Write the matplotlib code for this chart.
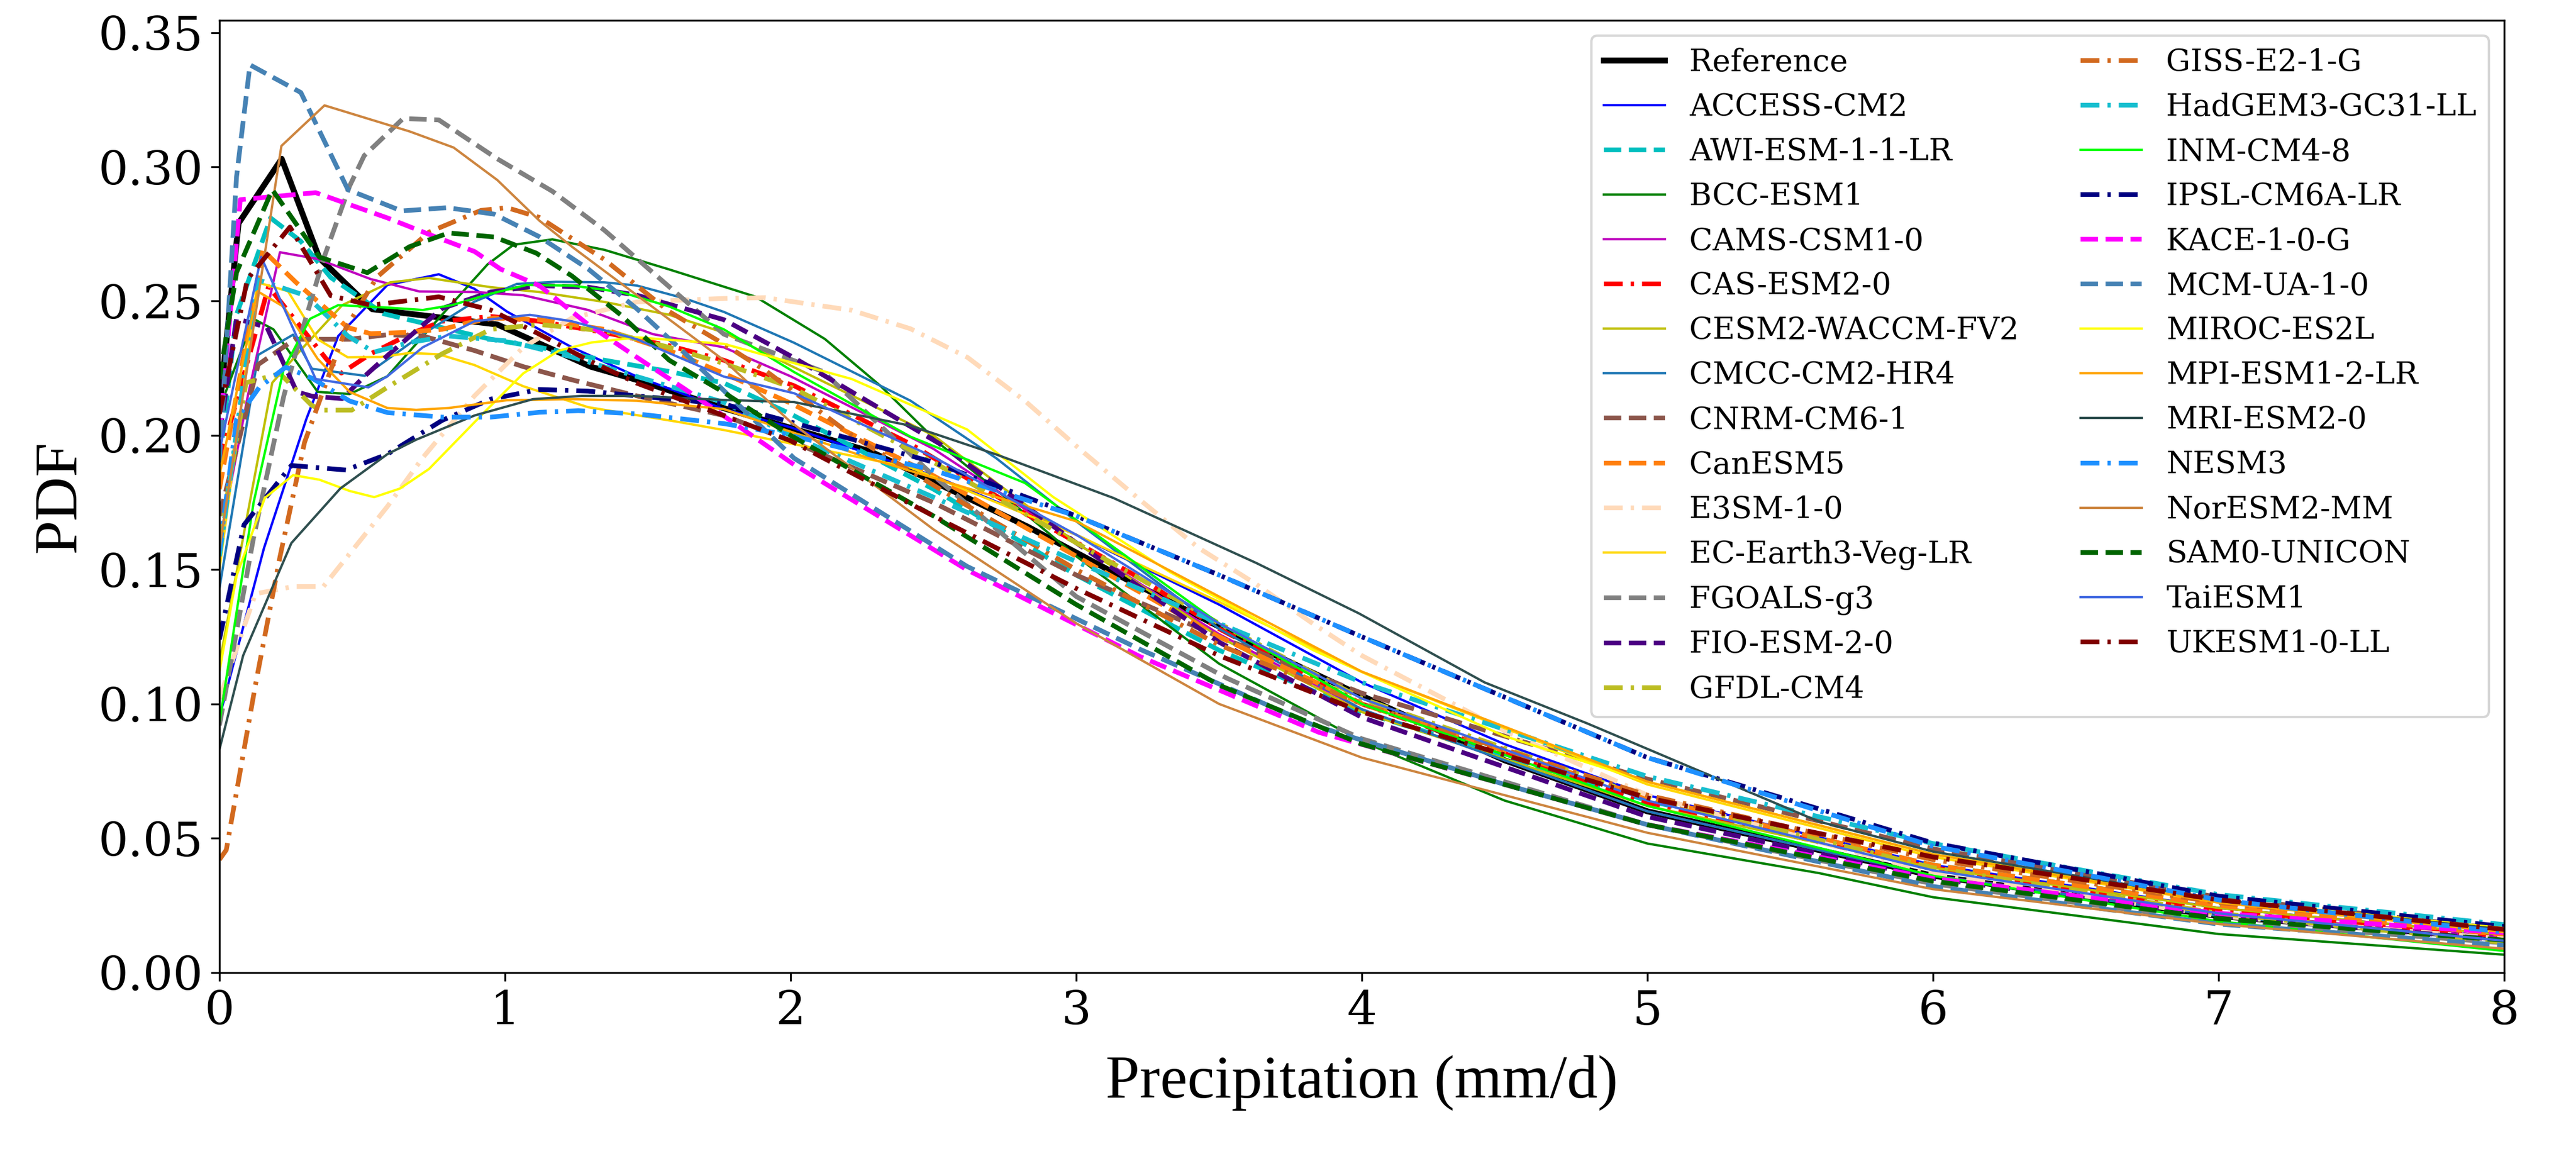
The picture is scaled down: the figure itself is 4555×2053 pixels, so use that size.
import matplotlib
matplotlib.use("Agg")
import matplotlib.pyplot as plt

plt.rcParams['font.family'] = ['DejaVu Serif']

# ---- data (x: mm/d, y: PDF) ----
ref_x = [0, 0.067, 0.218, 0.35, 0.535, 0.973, 1.30, 1.46, 1.77, 2.28, 2.83, 3.2, 3.7, 4.0, 4.5, 5, 6, 7, 8]
ref_y = [0.21, 0.279, 0.303, 0.266, 0.247, 0.2413, 0.2256, 0.2207, 0.210, 0.194, 0.166, 0.145, 0.118, 0.103, 0.079, 0.060, 0.036, 0.021, 0.0125]

access_x = [0, 0.156, 0.304, 0.416, 0.588, 0.768, 0.893, 1.007, 1.234, 1.462, 1.766, 2.0, 2.5, 3.0, 3.5, 4, 4.5, 5, 6, 7, 8]
access_y = [0.095, 0.158, 0.206, 0.237, 0.256, 0.260, 0.2546, 0.2461, 0.2328, 0.2219, 0.2098, 0.203, 0.185, 0.163, 0.137, 0.108, 0.085, 0.066, 0.040, 0.024, 0.014]

awi_x = [0, 0.06, 0.179, 0.284, 0.39, 0.575, 0.78, 0.95, 1.12, 1.348, 1.575, 1.766, 2.0, 2.5, 3.0, 3.5, 4, 5, 6, 7, 8]
awi_y = [0.19, 0.245, 0.281, 0.2724, 0.2588, 0.2453, 0.2401, 0.2358, 0.2328, 0.228, 0.2238, 0.2195, 0.208, 0.18, 0.148, 0.12, 0.097, 0.064, 0.040, 0.025, 0.015]

bcc_x = [0, 0.119, 0.189, 0.344, 0.456, 0.588, 0.78, 0.939, 1.03, 1.166, 1.348, 1.575, 1.876, 2.12, 2.315, 2.52, 2.82, 3.0, 3.5, 4, 4.5, 5, 5.6, 6, 7, 8]
bcc_y = [0.21, 0.2434, 0.2395, 0.2162, 0.2154, 0.222, 0.245, 0.2637, 0.271, 0.273, 0.2691, 0.2618, 0.2517, 0.2359, 0.2184, 0.197, 0.171, 0.155, 0.115, 0.086, 0.064, 0.048, 0.037, 0.028, 0.0143, 0.0066]

cams_x = [0, 0.1, 0.212, 0.344, 0.53, 0.7, 0.893, 1.064, 1.291, 1.518, 1.766, 2.0, 2.5, 3.0, 3.5, 4, 5, 6, 7, 8]
cams_y = [0.16, 0.215, 0.2682, 0.2657, 0.2582, 0.2536, 0.2534, 0.2522, 0.2467, 0.2377, 0.2328, 0.222, 0.195, 0.16, 0.126, 0.098, 0.060, 0.036, 0.022, 0.013]

cas_x = [0, 0.172, 0.377, 0.427, 0.53, 0.666, 0.78, 0.95, 1.12, 1.348, 1.575, 1.766, 2.012, 2.42, 2.82, 3.22, 3.5, 4, 5, 6, 7, 8]
cas_y = [0.19, 0.2554, 0.2281, 0.2232, 0.2304, 0.2377, 0.2425, 0.2443, 0.2425, 0.2383, 0.2334, 0.228, 0.2185, 0.1968, 0.171, 0.147, 0.128, 0.100, 0.063, 0.039, 0.023, 0.0135]

cesm_x = [0, 0.185, 0.284, 0.43, 0.598, 0.734, 0.95, 1.12, 1.348, 1.575, 1.766, 2.0, 2.5, 3.0, 3.5, 4, 5, 6, 7, 8]
cesm_y = [0.115, 0.2196, 0.2317, 0.2485, 0.257, 0.2586, 0.2552, 0.2534, 0.2497, 0.2449, 0.2383, 0.226, 0.200, 0.160, 0.125, 0.097, 0.062, 0.039, 0.024, 0.014]

cmcc_x = [0, 0.136, 0.258, 0.324, 0.509, 0.712, 0.893, 1.041, 1.178, 1.348, 1.462, 1.632, 1.766, 2.012, 2.42, 2.72, 3.0, 3.5, 4, 5, 6, 7, 8]
cmcc_y = [0.143, 0.23, 0.2375, 0.2248, 0.2222, 0.2377, 0.2498, 0.2564, 0.2572, 0.257, 0.2558, 0.2509, 0.246, 0.2345, 0.2129, 0.1915, 0.168, 0.128, 0.098, 0.060, 0.036, 0.021, 0.012]

cnrm_x = [0, 0.136, 0.264, 0.456, 0.588, 0.712, 0.893, 1.064, 1.234, 1.462, 1.766, 2.0, 2.5, 3.0, 3.5, 4, 5, 6, 7, 8]
cnrm_y = [0.17, 0.2264, 0.2358, 0.2358, 0.2375, 0.237, 0.2316, 0.2256, 0.2207, 0.2147, 0.2074, 0.198, 0.175, 0.148, 0.125, 0.104, 0.072, 0.046, 0.028, 0.016]

canesm_x = [0, 0.152, 0.268, 0.45, 0.53, 0.643, 0.78, 0.87, 0.962, 1.12, 1.348, 1.575, 1.766, 2.0, 2.5, 3.0, 3.5, 4, 5, 6, 7, 8]
canesm_y = [0.18, 0.269, 0.257, 0.2401, 0.2379, 0.2383, 0.2395, 0.2419, 0.2437, 0.2431, 0.2395, 0.2316, 0.2231, 0.212, 0.185, 0.155, 0.125, 0.100, 0.065, 0.040, 0.025, 0.014]

e3sm_x = [0, 0.126, 0.258, 0.364, 0.588, 0.712, 0.893, 1.064, 1.234, 1.462, 1.766, 1.911, 2.214, 2.42, 2.62, 2.82, 3.02, 3.23, 3.43, 3.63, 3.83, 4.0, 4.5, 5, 6, 7, 8]
e3sm_y = [0.102, 0.141, 0.1437, 0.1437, 0.1735, 0.1917, 0.2147, 0.2328, 0.2437, 0.2497, 0.251, 0.2513, 0.2466, 0.2397, 0.229, 0.2129, 0.1942, 0.1754, 0.158, 0.1446, 0.1298, 0.118, 0.090, 0.066, 0.037, 0.021, 0.0125]

ecearth_x = [0, 0.133, 0.24, 0.344, 0.449, 0.564, 0.666, 0.768, 0.893, 1.064, 1.291, 1.608, 1.766, 2.0, 2.42, 3.0, 3.5, 4, 5, 6, 7, 8]
ecearth_y = [0.15, 0.257, 0.2537, 0.2358, 0.2291, 0.2292, 0.2307, 0.2302, 0.2262, 0.2183, 0.2105, 0.205, 0.202, 0.197, 0.188, 0.163, 0.138, 0.112, 0.070, 0.043, 0.026, 0.0155]

fgoals_x = [0, 0.119, 0.225, 0.278, 0.364, 0.456, 0.507, 0.643, 0.768, 0.973, 1.166, 1.348, 1.518, 1.766, 2.113, 2.5, 3.0, 3.527, 4, 5, 6, 7, 8]
fgoals_y = [0.092, 0.1616, 0.2145, 0.2349, 0.2656, 0.2929, 0.3042, 0.318, 0.3175, 0.303, 0.2909, 0.2764, 0.2606, 0.2377, 0.2238, 0.185, 0.140, 0.1096, 0.087, 0.055, 0.033, 0.019, 0.011]

fio_x = [0, 0.06, 0.166, 0.271, 0.324, 0.43, 0.507, 0.588, 0.78, 0.95, 1.12, 1.291, 1.462, 1.766, 2.012, 2.52, 3.0, 3.5, 4, 5, 6, 7, 8]
fio_y = [0.20, 0.2434, 0.2403, 0.2162, 0.2146, 0.2137, 0.2219, 0.2297, 0.2473, 0.2534, 0.2558, 0.2552, 0.2522, 0.2431, 0.2289, 0.197, 0.160, 0.123, 0.095, 0.058, 0.035, 0.021, 0.012]

gfdl_x = [0, 0.093, 0.212, 0.324, 0.364, 0.463, 0.588, 0.78, 0.95, 1.12, 1.348, 1.575, 1.766, 2.012, 2.5, 3.0, 3.5, 4, 5, 6, 7, 8]
gfdl_y = [0.16, 0.2196, 0.223, 0.2111, 0.2094, 0.2094, 0.2179, 0.2304, 0.2395, 0.2413, 0.2389, 0.2328, 0.2268, 0.2175, 0.190, 0.160, 0.130, 0.102, 0.065, 0.039, 0.022, 0.0111]

giss_x = [0, 0.024, 0.126, 0.212, 0.298, 0.443, 0.552, 0.734, 0.916, 1.007, 1.12, 1.348, 1.575, 1.766, 1.911, 2.214, 2.6, 3.0, 3.5, 4, 5, 6, 7, 8]
giss_y = [0.042, 0.0456, 0.107, 0.1548, 0.1974, 0.240, 0.259, 0.2757, 0.2838, 0.2848, 0.2812, 0.2655, 0.2461, 0.234, 0.2242, 0.200, 0.175, 0.150, 0.122, 0.100, 0.066, 0.042, 0.026, 0.016]

hadgem_x = [0, 0.133, 0.304, 0.45, 0.541, 0.666, 0.803, 1.007, 1.234, 1.462, 1.766, 2.0, 2.5, 3.0, 3.5, 4, 5, 6, 7, 8]
hadgem_y = [0.155, 0.258, 0.252, 0.237, 0.231, 0.2346, 0.237, 0.2352, 0.2292, 0.2219, 0.2123, 0.200, 0.177, 0.153, 0.130, 0.108, 0.073, 0.048, 0.029, 0.0178]

inm_x = [0, 0.12, 0.225, 0.317, 0.416, 0.588, 0.712, 0.814, 0.95, 1.075, 1.234, 1.405, 1.575, 1.766, 2.012, 2.42, 2.82, 3.5, 4, 5, 6, 7, 8]
inm_y = [0.093, 0.1752, 0.2247, 0.2434, 0.2485, 0.2476, 0.2467, 0.2485, 0.2528, 0.256, 0.2558, 0.2534, 0.248, 0.2395, 0.2236, 0.1995, 0.1823, 0.130, 0.100, 0.062, 0.036, 0.019, 0.008]

ipsl_x = [0, 0.086, 0.252, 0.443, 0.588, 0.78, 0.95, 1.12, 1.291, 1.462, 1.766, 2.0, 2.5, 3.0, 3.5, 4, 5, 6, 7, 8]
ipsl_y = [0.124, 0.1667, 0.1888, 0.1871, 0.193, 0.2056, 0.2135, 0.2171, 0.2165, 0.2147, 0.2117, 0.205, 0.190, 0.170, 0.148, 0.125, 0.080, 0.0482, 0.0284, 0.0171]

kace_x = [0, 0.073, 0.337, 0.588, 0.757, 0.893, 0.985, 1.12, 1.291, 1.46, 1.632, 2.012, 2.618, 3.224, 3.85, 4.5, 5, 6, 7, 8]
kace_y = [0.20, 0.2878, 0.2904, 0.281, 0.2739, 0.2685, 0.2619, 0.2558, 0.2413, 0.2292, 0.2171, 0.1891, 0.1499, 0.1176, 0.0894, 0.070, 0.055, 0.035, 0.022, 0.0148]

mcm_x = [0, 0.06, 0.107, 0.285, 0.45, 0.638, 0.797, 0.962, 1.12, 1.291, 1.46, 1.632, 2.012, 2.618, 3.224, 3.83, 4.5, 5, 6, 7, 8]
mcm_y = [0.19, 0.2964, 0.338, 0.3277, 0.2915, 0.2836, 0.2848, 0.2824, 0.274, 0.262, 0.2473, 0.2304, 0.1915, 0.1512, 0.1203, 0.0921, 0.070, 0.055, 0.032, 0.018, 0.0101]

miroc_x = [0, 0.06, 0.159, 0.258, 0.35, 0.456, 0.542, 0.632, 0.734, 0.916, 1.064, 1.189, 1.303, 1.462, 1.766, 2.214, 2.618, 2.92, 3.33, 3.83, 4.5, 5, 6, 7, 8]
miroc_y = [0.112, 0.1477, 0.1767, 0.1852, 0.1835, 0.1793, 0.177, 0.1802, 0.1875, 0.2074, 0.2231, 0.2316, 0.2346, 0.2365, 0.2341, 0.221, 0.2022, 0.177, 0.149, 0.120, 0.088, 0.071, 0.044, 0.027, 0.0165]

mpi_x = [0, 0.133, 0.225, 0.344, 0.456, 0.588, 0.689, 0.803, 1.007, 1.234, 1.462, 1.766, 2.277, 3.0, 3.5, 4, 5, 6, 7, 8]
mpi_y = [0.185, 0.2537, 0.2479, 0.2285, 0.2162, 0.2102, 0.2095, 0.2102, 0.2131, 0.2135, 0.2129, 0.2098, 0.1914, 0.168, 0.140, 0.112, 0.071, 0.044, 0.026, 0.015]

mri_x = [0, 0.083, 0.252, 0.423, 0.588, 0.689, 0.893, 1.098, 1.268, 1.462, 1.766, 2.012, 2.42, 2.72, 3.13, 3.63, 3.99, 4.43, 4.79, 5.6, 6, 7, 8]
mri_y = [0.083, 0.118, 0.1599, 0.1802, 0.193, 0.1984, 0.2074, 0.2135, 0.2147, 0.2147, 0.2132, 0.2124, 0.2036, 0.1929, 0.1767, 0.1525, 0.1337, 0.108, 0.0927, 0.0562, 0.045, 0.027, 0.016]

nesm_x = [0, 0.06, 0.139, 0.232, 0.324, 0.456, 0.588, 0.78, 0.95, 1.12, 1.257, 1.462, 1.766, 2.0, 2.5, 3.0, 3.5, 4, 5, 6, 7, 8]
nesm_y = [0.157, 0.206, 0.2178, 0.2254, 0.2213, 0.2128, 0.2085, 0.2068, 0.2068, 0.2086, 0.2092, 0.208, 0.2044, 0.200, 0.187, 0.170, 0.148, 0.125, 0.080, 0.047, 0.027, 0.015]

noresm_x = [0, 0.217, 0.368, 0.666, 0.82, 0.973, 1.12, 1.234, 1.766, 2.0, 2.5, 3.0, 3.5, 4, 5, 6, 7, 8]
noresm_y = [0.158, 0.3078, 0.3229, 0.3132, 0.3072, 0.2951, 0.280, 0.2703, 0.228, 0.205, 0.165, 0.130, 0.100, 0.080, 0.052, 0.031, 0.018, 0.0088]

sam0_x = [0, 0.06, 0.185, 0.35, 0.518, 0.666, 0.803, 0.962, 1.109, 1.234, 1.405, 1.575, 1.766, 2.0, 2.5, 3.0, 3.5, 4, 5, 6, 7, 8]
sam0_y = [0.221, 0.2607, 0.2915, 0.2664, 0.2606, 0.2703, 0.2754, 0.2739, 0.2679, 0.2594, 0.2449, 0.228, 0.216, 0.200, 0.170, 0.137, 0.107, 0.085, 0.055, 0.034, 0.020, 0.012]

tai_x = [0, 0.146, 0.337, 0.522, 0.588, 0.712, 0.893, 1.087, 1.234, 1.462, 1.766, 2.012, 2.5, 3.0, 3.5, 4, 5, 6, 7, 8]
tai_y = [0.194, 0.2665, 0.221, 0.2179, 0.222, 0.2328, 0.2425, 0.2449, 0.2425, 0.2358, 0.2219, 0.2157, 0.192, 0.163, 0.130, 0.102, 0.064, 0.038, 0.022, 0.0118]

ukesm_x = [0, 0.098, 0.247, 0.39, 0.53, 0.768, 0.95, 1.12, 1.291, 1.46, 1.766, 2.0, 2.5, 3.0, 3.5, 4, 5, 6, 7, 8]
ukesm_y = [0.208, 0.2582, 0.2776, 0.252, 0.2485, 0.2516, 0.2467, 0.2377, 0.228, 0.2195, 0.2074, 0.198, 0.170, 0.143, 0.118, 0.097, 0.065, 0.043, 0.027, 0.016]

names = ['Reference', 'ACCESS-CM2', 'AWI-ESM-1-1-LR', 'BCC-ESM1', 'CAMS-CSM1-0', 'CAS-ESM2-0',
         'CESM2-WACCM-FV2', 'CMCC-CM2-HR4', 'CNRM-CM6-1', 'CanESM5', 'E3SM-1-0', 'EC-Earth3-Veg-LR',
         'FGOALS-g3', 'FIO-ESM-2-0', 'GFDL-CM4', 'GISS-E2-1-G', 'HadGEM3-GC31-LL', 'INM-CM4-8',
         'IPSL-CM6A-LR', 'KACE-1-0-G', 'MCM-UA-1-0', 'MIROC-ES2L', 'MPI-ESM1-2-LR', 'MRI-ESM2-0',
         'NESM3', 'NorESM2-MM', 'SAM0-UNICON', 'TaiESM1', 'UKESM1-0-LL']
xs = [ref_x, access_x, awi_x, bcc_x, cams_x, cas_x, cesm_x, cmcc_x, cnrm_x, canesm_x, e3sm_x, ecearth_x,
      fgoals_x, fio_x, gfdl_x, giss_x, hadgem_x, inm_x, ipsl_x, kace_x, mcm_x, miroc_x, mpi_x, mri_x,
      nesm_x, noresm_x, sam0_x, tai_x, ukesm_x]
ys = [ref_y, access_y, awi_y, bcc_y, cams_y, cas_y, cesm_y, cmcc_y, cnrm_y, canesm_y, e3sm_y, ecearth_y,
      fgoals_y, fio_y, gfdl_y, giss_y, hadgem_y, inm_y, ipsl_y, kace_y, mcm_y, miroc_y, mpi_y, mri_y,
      nesm_y, noresm_y, sam0_y, tai_y, ukesm_y]
colors = ['black', '#0000FF', '#00BFBF', '#008000', '#BF00BF', '#FF0000',
          '#BFBF00', '#1F77B4', '#8C564B', '#FF7F0E', '#FFDAB9', '#FFD700',
          '#808080', '#4B0082', '#BCBD22', '#D2691E', '#17BECF', '#00FF00',
          '#000080', '#FF00FF', '#4682B4', '#FFFF00', '#FFA500', '#2F4F4F',
          '#1E90FF', '#CD853F', '#006400', '#4169E1', '#800000']
styles = ['-', '-', '--', '-', '-', '-.',
          '-', '-', '--', '--', '-.', '-',
          '--', '--', '-.', '-.', '-.', '-',
          '-.', '--', '--', '-', '-', '-',
          '-.', '-', '--', '-', '-.']

fig = plt.figure(figsize=(4555/300, 2053/300), dpi=300)
ax = fig.add_axes([388/4555, 1-1719.5/2053, (4428-388)/4555, (1719.5-36)/2053])

for i in range(len(names)):
    if i == 0:
        lw = 2.5
    elif styles[i] == '-':
        lw = 1.0
    else:
        lw = 2.0
    line, = ax.plot(xs[i], ys[i], color=colors[i], linestyle=styles[i], linewidth=lw, label=names[i])
    if styles[i] == '-.':
        line.set_dashes([4, 1.7, 0.7, 1.7])

ax.set_xlim(0, 8)
ax.set_ylim(bottom=0)
ax.tick_params(labelsize=20)
ax.set_xlabel('Precipitation (mm/d)', fontsize=26, family=['Liberation Serif', 'DejaVu Serif'], labelpad=9)
ax.set_ylabel('PDF', fontsize=26, family=['Liberation Serif', 'DejaVu Serif'])
ax.legend(ncol=2, loc='upper right', fontsize=13)

plt.savefig('out.png', dpi=300)
